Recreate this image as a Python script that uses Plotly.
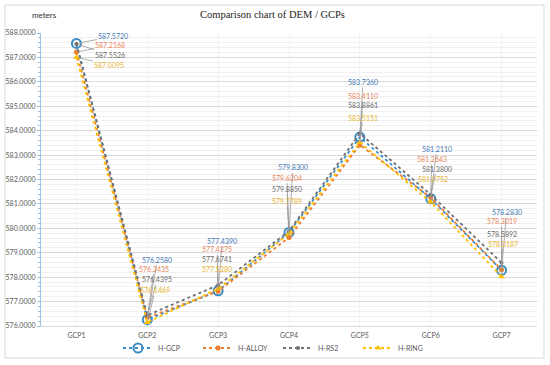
import plotly.graph_objects as go

categories = ["GCP1", "GCP2", "GCP3", "GCP4", "GCP5", "GCP6", "GCP7"]
h_gcp = [587.5720, 576.2580, 577.4390, 579.8300, 583.7360, 581.2110, 578.2830]
h_alloy = [587.2168, 576.3435, 577.4275, 579.6204, 583.4110, 581.2643, 578.3019]
h_rs2 = [587.5526, 576.4395, 577.6741, 579.8850, 583.8861, 581.3800, 578.5892]
h_ring = [587.0095, 576.1469, 577.5280, 579.7789, 583.5151, 581.0752, 578.0187]
y_ticks = [576, 577, 578, 579, 580, 581, 582, 583, 584, 585, 586, 587, 588]

series = [
    ("H-GCP", h_gcp, "#3C8DC5", "#3F78B5", dict(symbol="circle-open", size=9, line=dict(width=2))),
    ("H-ALLOY", h_alloy, "#ED7D31", "#E8855A", dict(symbol="circle", size=5)),
    ("H-RS2", h_rs2, "#6F6F6F", "#6A6A6A", dict(symbol="circle", size=4)),
    ("H-RING", h_ring, "#FFC000", "#E9B42E", dict(symbol="triangle-up", size=6)),
]

# label offsets (pixels) per series, per category
offsets = {
    "H-GCP":   [(37, -7), (10, -60), (4, -50), (4, -65), (3, -55), (6, -50), (5, -58)],
    "H-ALLOY": [(34, -7), (7, -49), (-1, -42), (-2, -60), (3, -49), (1, -38), (0, -49)],
    "H-RS2":   [(34, 11), (10, -36), (-1, -26), (-2, -42), (3, -28), (6, -26), (0, -29)],
    "H-RING":  [(33, 8), (8, -32), (-1, -20), (-2, -33), (3, -25), (2, -23), (1, -33)],
}

fig = go.Figure()
annotations = []
for name, vals, color, tcolor, mk in series:
    fig.add_trace(go.Scatter(
        x=categories, y=vals, name=name, mode="lines+markers",
        line=dict(color=color, width=1.8, dash="dot"),
        marker=dict(color=color, **mk),
    ))
    for c, v, (ax, ay) in zip(categories, vals, offsets[name]):
        annotations.append(dict(
            x=c, y=v, xref="x", yref="y", text=f"{v:.4f}",
            showarrow=True, arrowhead=0, arrowwidth=0.8, arrowcolor="#9a9a9a",
            ax=ax, ay=ay, font=dict(size=7, color=tcolor, family="Lato"),
            standoff=2,
        ))

annotations.append(dict(text="Comparison chart of DEM / GCPs", xref="paper", yref="paper",
                        x=(272 - 41) / 496, y=(326 - 15) / 293, yanchor="middle", showarrow=False,
                        font=dict(size=10.5, color="#222", family="Liberation Serif")))
annotations.append(dict(text="meters", xref="paper", yref="paper",
                        x=(30 - 41) / 496, y=(326 - 15) / 293, yanchor="middle", showarrow=False,
                        font=dict(size=8, color="#333", family="Lato")))

fig.update_layout(
    width=550, height=365,
    margin=dict(l=41, r=13, t=33, b=39, autoexpand=False),
    paper_bgcolor="white", plot_bgcolor="white",
    font=dict(family="Lato", size=7, color="#595959"),
    showlegend=True,
    legend=dict(orientation="h", x=(278 - 41) / 496, xanchor="center",
                yref="container", y=1 - 348 / 365, yanchor="middle",
                bgcolor="rgba(0,0,0,0)", entrywidth=35, entrywidthmode="pixels",
                font=dict(size=7, color="#595959"), itemwidth=30),
    annotations=annotations,
    shapes=[dict(type="rect", xref="paper", yref="paper",
                 x0=(5 - 41) / 496, x1=(544 - 41) / 496,
                 y0=(326 - 358) / 293, y1=(326 - 5) / 293,
                 line=dict(color="#d9d9d9", width=1), layer="below")],
    xaxis=dict(range=[-0.5, 6.5], showgrid=True, gridcolor="#f2f2f2", gridwidth=0.5,
               showline=True, linecolor="#d9d9d9", ticks="", automargin=False,
               ticklabelstandoff=3, tickfont=dict(size=7, color="#595959")),
    yaxis=dict(range=[576, 588], tickvals=y_ticks, ticktext=[f"{t:.4f}" for t in y_ticks],
               showgrid=True, gridcolor="#d9d9d9", gridwidth=0.6, automargin=False,
               showline=True, linecolor="#9DC3E6", linewidth=1,
               ticks="outside", ticklen=3, tickcolor="#9DC3E6",
               minor=dict(dtick=0.2, showgrid=True, gridcolor="#f0f0f0", ticks="outside",
                          ticklen=2, tickcolor="#9DC3E6"),
               zeroline=False, tickfont=dict(size=7, color="#595959")),
)

fig.write_html("out.html", config={"displayModeBar": False},
               post_script="document.body.style.margin='0';document.body.style.overflow='hidden';")
